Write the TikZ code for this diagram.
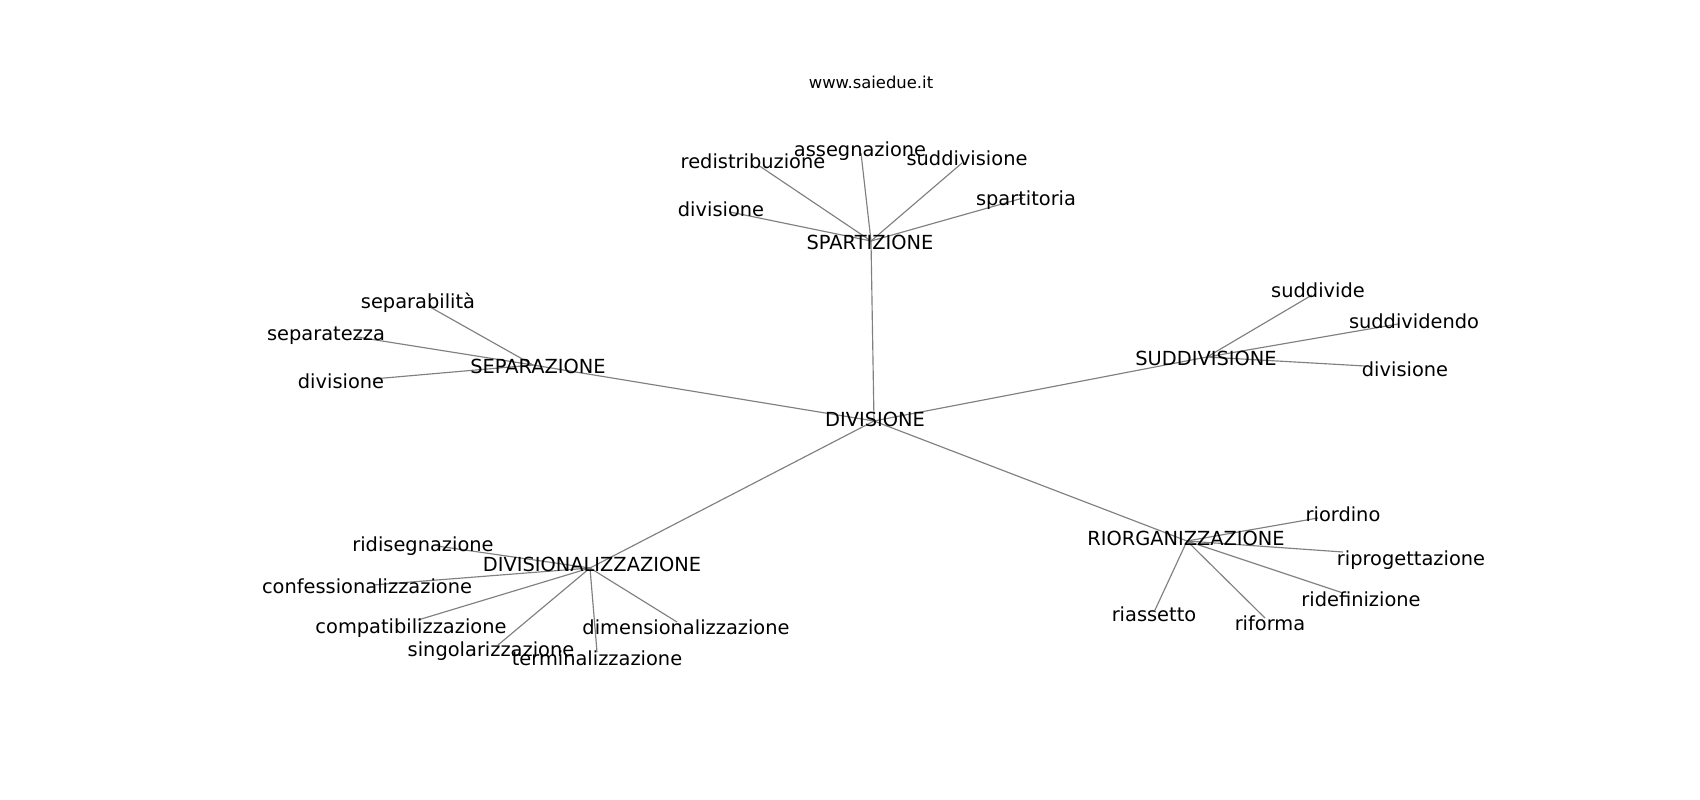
\documentclass[tikz,border=0pt]{standalone}
\usepackage{fontspec}
\setmainfont{DejaVu Sans}
\begin{document}
\begin{tikzpicture}[x=1pt,y=-1pt,
  lbl/.style={inner sep=0pt,anchor=center,text height=14.2pt,text depth=0pt,yshift=-1.5pt,font=\fontsize{19.4}{23}\selectfont},
  ttl/.style={inner sep=0pt,anchor=center,text height=11.9pt,text depth=0pt,yshift=-1pt,font=\fontsize{16.4}{20}\selectfont},
  edge/.style={draw=gray,line width=1.15pt}]
\useasboundingbox (0,0) rectangle (1700,800);
\fill[white] (0,0) rectangle (1700,800);
% hubs and endpoints
\coordinate (div) at (874,421);
\coordinate (spa) at (871,241);
\coordinate (sep) at (533,365);
\coordinate (sud) at (1207,357);
\coordinate (dvz) at (590,568);
\coordinate (rio) at (1187,541);
\coordinate (redi) at (758,165);
\coordinate (asse) at (861,153);
\coordinate (sudv) at (962,163);
\coordinate (divA) at (730,212);
\coordinate (spat) at (1023,198);
\coordinate (sepb) at (430,307);
\coordinate (sept) at (357,337);
\coordinate (divB) at (373,379);
\coordinate (sdve) at (1312,295);
\coordinate (sdvn) at (1398,324);
\coordinate (divC) at (1365,366);
\coordinate (ridi) at (437,546);
\coordinate (conf) at (373,585);
\coordinate (comp) at (418,620);
\coordinate (sing) at (498,645);
\coordinate (term) at (597,652);
\coordinate (dime) at (677,622);
\coordinate (rior) at (1318,518);
\coordinate (ripr) at (1343,552);
\coordinate (ridf) at (1343,593);
\coordinate (rias) at (1155,610);
\coordinate (rifo) at (1265,618);
% edges
\draw[edge] (div) -- (spa);
\draw[edge] (div) -- (sep);
\draw[edge] (div) -- (sud);
\draw[edge] (div) -- (dvz);
\draw[edge] (div) -- (rio);
\draw[edge] (spa) -- (redi);
\draw[edge] (spa) -- (asse);
\draw[edge] (spa) -- (sudv);
\draw[edge] (spa) -- (divA);
\draw[edge] (spa) -- (spat);
\draw[edge] (sep) -- (sepb);
\draw[edge] (sep) -- (sept);
\draw[edge] (sep) -- (divB);
\draw[edge] (sud) -- (sdve);
\draw[edge] (sud) -- (sdvn);
\draw[edge] (sud) -- (divC);
\draw[edge] (dvz) -- (ridi);
\draw[edge] (dvz) -- (conf);
\draw[edge] (dvz) -- (comp);
\draw[edge] (dvz) -- (sing);
\draw[edge] (dvz) -- (term);
\draw[edge] (dvz) -- (dime);
\draw[edge] (rio) -- (rior);
\draw[edge] (rio) -- (ripr);
\draw[edge] (rio) -- (ridf);
\draw[edge] (rio) -- (rias);
\draw[edge] (rio) -- (rifo);
% labels
\node[ttl] (title) at (871,82) {www.saiedue.it};
\node[lbl] (divL) at (875,418) {DIVISIONE};
\node[lbl] (spaL) at (870,241) {SPARTIZIONE};
\node[lbl] (sepL) at (538,365) {SEPARAZIONE};
\node[lbl] (sudL) at (1206,357) {SUDDIVISIONE};
\node[lbl] (dvzL) at (592,563) {DIVISIONALIZZAZIONE};
\node[lbl] (rioL) at (1186,537) {RIORGANIZZAZIONE};
\node[lbl] (rediL) at (753,160) {redistribuzione};
\node[lbl] (asseL) at (860,148) {assegnazione};
\node[lbl] (sudvL) at (967,157) {suddivisione};
\node[lbl] (divAL) at (721,208) {divisione};
\node[lbl] (spatL) at (1026,197) {spartitoria};
\node[lbl] (sepbL) at (418,300) {separabilità};
\node[lbl] (septL) at (326,332) {separatezza};
\node[lbl] (divBL) at (341,380) {divisione};
\node[lbl] (sdveL) at (1318,289) {suddivide};
\node[lbl] (sdvnL) at (1414,320) {suddividendo};
\node[lbl] (divCL) at (1405,368) {divisione};
\node[lbl] (ridiL) at (423,543) {ridisegnazione};
\node[lbl] (confL) at (367,585) {confessionalizzazione};
\node[lbl] (compL) at (411,625) {compatibilizzazione};
\node[lbl] (singL) at (491,648) {singolarizzazione};
\node[lbl] (termL) at (597,657) {terminalizzazione};
\node[lbl] (dimeL) at (686,626) {dimensionalizzazione};
\node[lbl] (riorL) at (1343,513) {riordino};
\node[lbl] (riprL) at (1411,557) {riprogettazione};
\node[lbl] (ridfL) at (1361,598) {ridefinizione};
\node[lbl] (riasL) at (1154,613) {riassetto};
\node[lbl] (rifoL) at (1270,622) {riforma};
\end{tikzpicture}
\end{document}
